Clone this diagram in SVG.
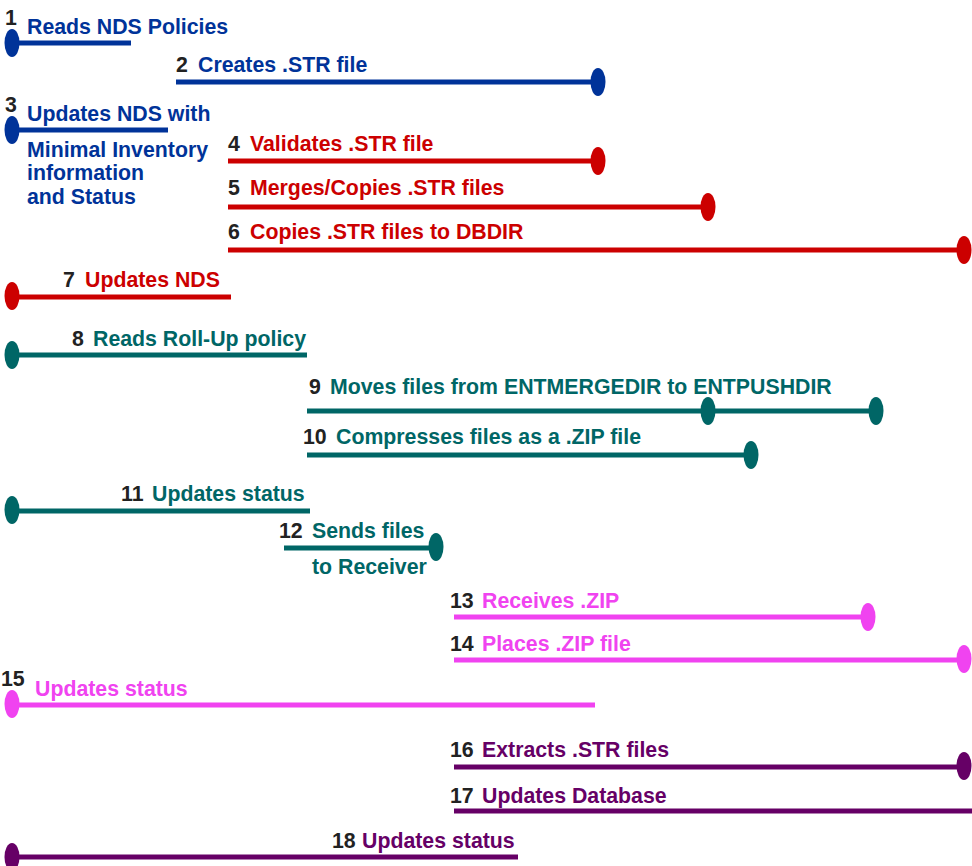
<svg xmlns="http://www.w3.org/2000/svg" width="972" height="866" viewBox="0 0 972 866">
<style>
text{font-family:"Liberation Sans",Arial,sans-serif;font-weight:bold;font-size:21.3px}
.n{fill:#222222}
.b{fill:#003399}.bs{stroke:#003399}
.r{fill:#cc0000}.rs{stroke:#cc0000}
.t{fill:#006666}.ts{stroke:#006666}
.m{fill:#f043f0}.ms{stroke:#f043f0}
.p{fill:#660066}.ps{stroke:#660066}
line{stroke-width:5}
</style>
<defs>
<ellipse id="dot" cx="0" cy="0" rx="7.5" ry="14"/>
</defs>
<rect width="972" height="866" fill="#ffffff"/>
<g id="connectors">
<g id="bar1"><line class="bs" x1="12" y1="43" x2="131" y2="43"/><use href="#dot" class="b" x="12" y="43"/></g>
<g id="bar2"><line class="bs" x1="176" y1="82" x2="598" y2="82"/><use href="#dot" class="b" x="598" y="82"/></g>
<g id="bar3"><line class="bs" x1="12" y1="130" x2="168" y2="130"/><use href="#dot" class="b" x="12" y="130"/></g>
<g id="bar4"><line class="rs" x1="228" y1="161" x2="598" y2="161"/><use href="#dot" class="r" x="598" y="161"/></g>
<g id="bar5"><line class="rs" x1="228" y1="207" x2="708" y2="207"/><use href="#dot" class="r" x="708" y="207"/></g>
<g id="bar6"><line class="rs" x1="228" y1="250" x2="964" y2="250"/><use href="#dot" class="r" x="964" y="250"/></g>
<g id="bar7"><line class="rs" x1="12" y1="297" x2="231" y2="297"/><use href="#dot" class="r" x="12" y="296"/></g>
<g id="bar8"><line class="ts" x1="12" y1="355" x2="307" y2="355"/><use href="#dot" class="t" x="12" y="355"/></g>
<g id="bar9"><line class="ts" x1="307" y1="411" x2="876" y2="411"/><use href="#dot" class="t" x="708" y="411"/><use href="#dot" class="t" x="876" y="411"/></g>
<g id="bar10"><line class="ts" x1="307" y1="455" x2="751" y2="455"/><use href="#dot" class="t" x="751" y="455"/></g>
<g id="bar11"><line class="ts" x1="12" y1="511" x2="310" y2="511"/><use href="#dot" class="t" x="12" y="510"/></g>
<g id="bar12"><line class="ts" x1="284" y1="548" x2="436" y2="548"/><use href="#dot" class="t" x="436" y="547"/></g>
<g id="bar13"><line class="ms" x1="454" y1="617" x2="868" y2="617"/><use href="#dot" class="m" x="868" y="617"/></g>
<g id="bar14"><line class="ms" x1="454" y1="660" x2="964" y2="660"/><use href="#dot" class="m" x="964" y="659"/></g>
<g id="bar15"><line class="ms" x1="12" y1="705" x2="595" y2="705"/><use href="#dot" class="m" x="12" y="704"/></g>
<g id="bar16"><line class="ps" x1="454" y1="767" x2="964" y2="767"/><use href="#dot" class="p" x="964" y="766"/></g>
<g id="bar17"><line class="ps" x1="454" y1="811" x2="972" y2="811"/></g>
<g id="bar18"><line class="ps" x1="12" y1="857" x2="518" y2="857"/><use href="#dot" class="p" x="12" y="857"/></g>
</g>
<g id="step1"><text class="n" x="5" y="25">1</text><text class="b" x="27" y="34">Reads NDS Policies</text></g>
<g id="step2"><text class="n" x="176" y="72">2</text><text class="b" x="198" y="72">Creates .STR file</text></g>
<g id="step3"><text class="n" x="5" y="112">3</text><text class="b" x="27" y="121">Updates NDS with</text><text class="b" x="27" y="157">Minimal Inventory</text><text class="b" x="27" y="180">information</text><text class="b" x="27" y="204">and Status</text></g>
<g id="step4"><text class="n" x="228" y="151">4</text><text class="r" x="250" y="151">Validates .STR file</text></g>
<g id="step5"><text class="n" x="228" y="195">5</text><text class="r" x="250" y="195">Merges/Copies .STR files</text></g>
<g id="step6"><text class="n" x="228" y="239">6</text><text class="r" x="250" y="239">Copies .STR files to DBDIR</text></g>
<g id="step7"><text class="n" x="63" y="287">7</text><text class="r" x="85" y="287">Updates NDS</text></g>
<g id="step8"><text class="n" x="72" y="346">8</text><text class="t" x="93" y="346">Reads Roll-Up policy</text></g>
<g id="step9"><text class="n" x="309" y="394">9</text><text class="t" x="330" y="394">Moves files from ENTMERGEDIR to ENTPUSHDIR</text></g>
<g id="step10"><text class="n" x="303" y="444">10</text><text class="t" x="336" y="444">Compresses files as a .ZIP file</text></g>
<g id="step11"><text class="n" x="121" y="501">11</text><text class="t" x="152" y="501">Updates status</text></g>
<g id="step12"><text class="n" x="279" y="538">12</text><text class="t" x="312" y="538">Sends files</text><text class="t" x="312" y="574">to Receiver</text></g>
<g id="step13"><text class="n" x="450" y="608">13</text><text class="m" x="482" y="608">Receives .ZIP</text></g>
<g id="step14"><text class="n" x="450" y="651">14</text><text class="m" x="482" y="651">Places .ZIP file</text></g>
<g id="step15"><text class="n" x="1" y="686">15</text><text class="m" x="35" y="696">Updates status</text></g>
<g id="step16"><text class="n" x="450" y="757">16</text><text class="p" x="482" y="757">Extracts .STR files</text></g>
<g id="step17"><text class="n" x="450" y="803">17</text><text class="p" x="482" y="803">Updates Database</text></g>
<g id="step18"><text class="n" x="332" y="848">18</text><text class="p" x="362" y="848">Updates status</text></g>
</svg>
